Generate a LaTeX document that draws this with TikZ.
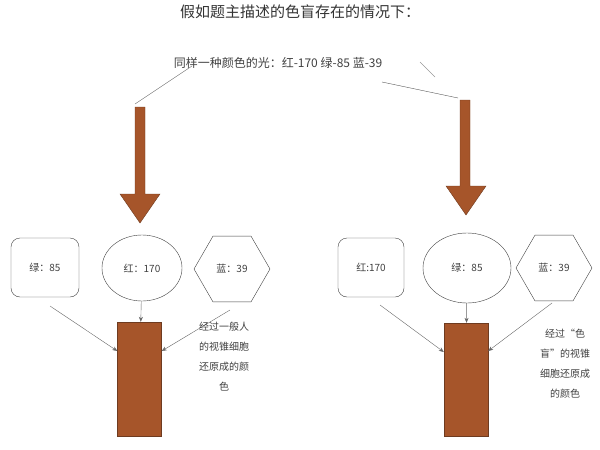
\documentclass[tikz,border=0pt]{standalone}
\usepackage{fontspec}
\setmainfont{Noto Sans CJK SC}
\usetikzlibrary{shapes.geometric,arrows.meta}
\definecolor{br}{HTML}{A6552A}
\definecolor{brd}{HTML}{6E3B20}
\begin{document}
\begin{tikzpicture}[x=1pt,y=-1pt,
  bx/.style={draw=black!75,rounded corners=9pt,minimum width=68pt,minimum height=59pt,font=\fontsize{10}{12}\selectfont,text=black!75},
  el/.style={draw=black!75,ellipse,font=\fontsize{10}{12}\selectfont,text=black!75},
  hx/.style={draw=black!75,regular polygon,regular polygon sides=6,minimum size=76pt,inner sep=0pt,font=\fontsize{10}{12}\selectfont,text=black!75},
  col/.style={draw=brd,fill=br,minimum width=44pt,inner sep=0pt},
  con/.style={draw=black!60,-{Stealth[length=5pt,width=4pt]}},
  ln/.style={draw=black!65},
  bigarrow/.style={draw=brd,fill=br},
  note/.style={align=center,font=\fontsize{10}{20}\selectfont,text=black!75}]
\useasboundingbox (0,0) rectangle (600,450);
\node[font=\fontsize{15}{17}\selectfont,text=black!80] (title) at (300,12) {假如题主描述的色盲存在的情况下：};
\node[font=\fontsize{12}{14}\selectfont,text=black!75] (sub) at (278,63) {同样一种颜色的光：红-170 绿-85 蓝-39};
\coordinate (la) at (135,104); \coordinate (ls) at (192,66);
\coordinate (ra) at (458,98); \coordinate (rs) at (382,82);
\coordinate (g1) at (420,62); \coordinate (g2) at (435,77);
\draw[ln] (ls) -- (la);
\draw[ln] (rs) -- (ra);
\draw[black!40] (g1) -- (g2);
\draw[bigarrow] (135,107) -- (145,107) -- (145,194) -- (160,194) -- (140,223) -- (120,194) -- (135,194) -- cycle;
\draw[bigarrow] (460,100) -- (470,100) -- (470,186) -- (486,186) -- (466,215) -- (446,186) -- (460,186) -- cycle;
% left
\node[bx] (g) at (45,267.5) {绿：85};
\node[el,minimum width=80pt,minimum height=66pt] (r) at (142,268) {红：170};
\node[hx] (b) at (232,269) {蓝：39};
\node[col,minimum height=114pt] (c1) at (139.5,379) {};
\draw[con] (50,306) -- (c1.west |- 0,351);
\draw[con] (r) -- (c1);
\draw[con] (230,310) -- (c1.east |- 0,351);
\node[note] (n1) at (224,357) {经过一般人\\的视锥细胞\\还原成的颜\\色};
% right
\node[bx,minimum width=66pt] (r2) at (371,267.5) {红:170};
\node[el,minimum width=88pt,minimum height=70pt] (g2n) at (467,268) {绿：85};
\node[hx] (b2) at (554,268) {蓝：39};
\node[col,minimum height=113pt] (c2) at (466,379.5) {};
\draw[con] (380,305) -- (c2.west |- 0,352);
\draw[con] (g2n) -- (c2);
\draw[con] (552,303) -- (c2.east |- 0,351);
\node[note] (n2) at (565,364) {经过“色\\盲”的视锥\\细胞还原成\\的颜色};
\end{tikzpicture}
\end{document}
